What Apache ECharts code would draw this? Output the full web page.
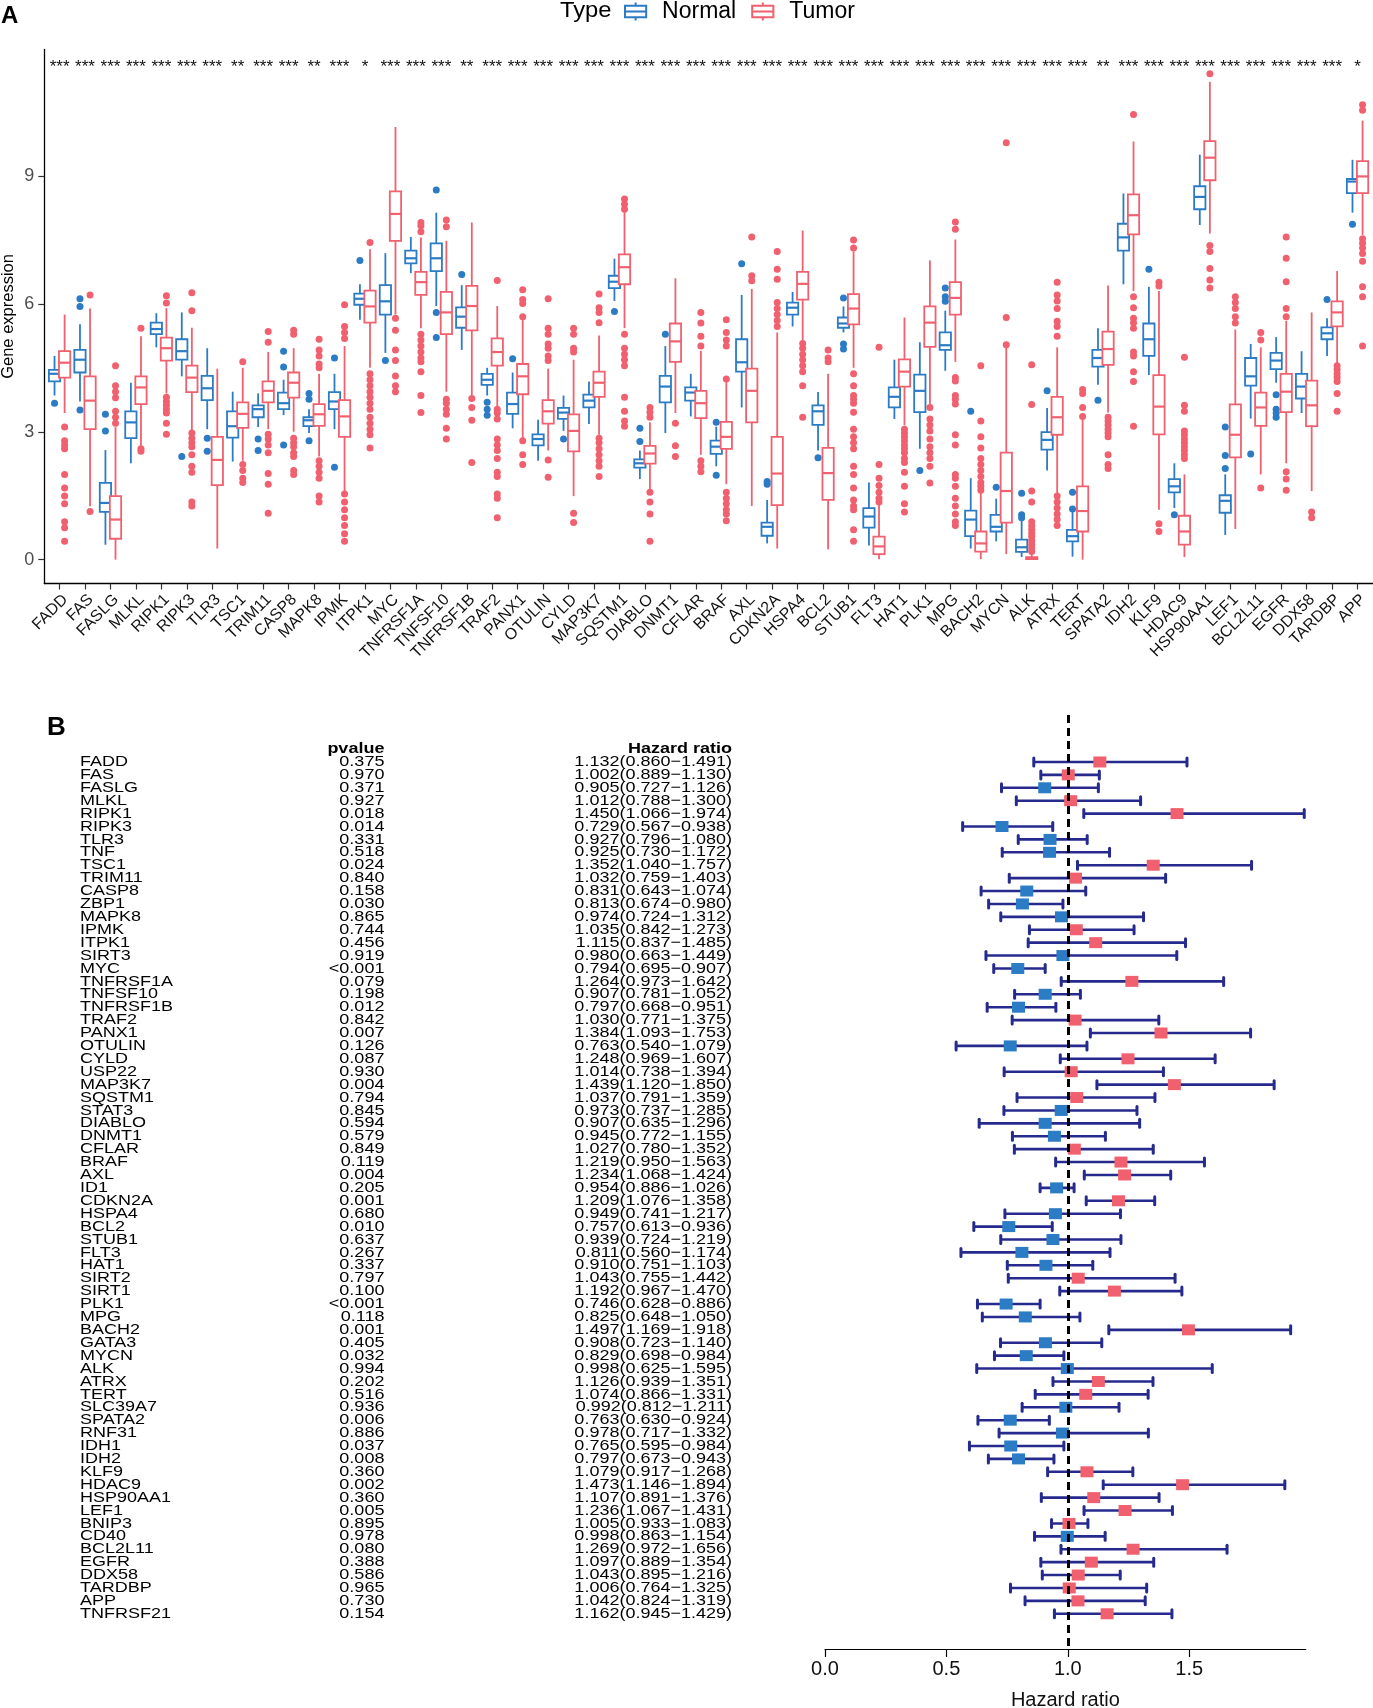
<!DOCTYPE html>
<html><head><meta charset="utf-8">
<script src="https://cdn.jsdelivr.net/npm/echarts@6/dist/echarts.min.js"></script>
<style>html,body{margin:0;padding:0;background:#fff}#c{width:1373px;height:1708px}</style>
</head><body><div id="c"></div>
<script>
// ---------------- Panel A data ----------------
const genesA = ['FADD','FAS','FASLG','MLKL','RIPK1','RIPK3','TLR3','TSC1','TRIM11','CASP8','MAPK8','IPMK','ITPK1','MYC','TNFRSF1A','TNFSF10','TNFRSF1B','TRAF2','PANX1','OTULIN','CYLD','MAP3K7','SQSTM1','DIABLO','DNMT1','CFLAR','BRAF','AXL','CDKN2A','HSPA4','BCL2','STUB1','FLT3','HAT1','PLK1','MPG','BACH2','MYCN','ALK','ATRX','TERT','SPATA2','IDH2','KLF9','HDAC9','HSP90AA1','LEF1','BCL2L11','EGFR','DDX58','TARDBP','APP'];
const sigA = ['***','***','***','***','***','***','***','**','***','***','**','***','*','***','***','***','**','***','***','***','***','***','***','***','***','***','***','***','***','***','***','***','***','***','***','***','***','***','***','***','***','**','***','***','***','***','***','***','***','***','***','*'];
// [min whisker, Q1, median, Q3, max whisker]
const normalBox = [
[3.85,4.18,4.36,4.45,4.78],[3.71,4.39,4.69,4.92,5.52],[0.35,1.12,1.33,1.80,2.57],[2.26,2.85,3.22,3.48,4.15],
[4.98,5.29,5.41,5.56,5.78],[4.30,4.69,4.89,5.17,5.80],[3.06,3.74,4.02,4.31,4.96],[2.30,2.86,3.13,3.48,3.94],
[3.11,3.34,3.53,3.62,3.90],[3.39,3.53,3.67,3.92,4.22],[2.97,3.13,3.27,3.34,3.53],[3.06,3.53,3.71,3.93,4.36],
[5.63,5.98,6.12,6.24,6.46],[4.85,5.75,6.06,6.44,7.19],[6.72,6.95,7.07,7.25,7.57],[5.95,6.77,7.07,7.42,8.14],
[4.92,5.44,5.70,5.92,6.44],[3.85,4.10,4.22,4.36,4.50],[3.08,3.42,3.65,3.92,4.39],[2.32,2.68,2.83,2.94,3.28],
[3.02,3.30,3.45,3.56,3.85],[3.18,3.57,3.73,3.87,4.18],[6.07,6.37,6.52,6.66,7.06],[1.89,2.16,2.26,2.35,2.56],
[2.97,3.69,4.06,4.31,5.01],[3.36,3.73,3.92,4.04,4.36],[2.19,2.48,2.65,2.79,3.12],[3.57,4.41,4.63,5.17,6.21],
[0.38,0.56,0.77,0.87,1.40],[5.47,5.75,5.91,6.03,6.28],[2.56,3.16,3.48,3.62,3.93],[5.33,5.44,5.54,5.68,5.94],
[0.33,0.75,1.01,1.21,1.81],[3.30,3.57,3.82,4.04,4.69],[2.60,3.46,3.96,4.34,5.10],[4.43,4.92,5.03,5.33,5.84],
[0.26,0.55,0.94,1.15,1.91],[0.43,0.66,0.77,1.05,1.43],[0.06,0.18,0.29,0.47,0.94],[2.09,2.58,2.81,2.99,3.56],
[0.07,0.43,0.55,0.70,1.26],[4.10,4.53,4.73,4.92,5.43],[6.46,7.25,7.56,7.88,8.59],[4.33,4.78,5.17,5.54,6.40],
[1.21,1.58,1.72,1.89,2.26],[7.85,8.22,8.51,8.76,9.50],[0.58,1.10,1.38,1.51,2.00],[3.31,4.08,4.30,4.73,5.06],
[4.15,4.47,4.67,4.85,5.22],[3.44,3.78,4.06,4.36,4.89],[4.78,5.17,5.31,5.45,5.66],[8.14,8.60,8.87,8.93,9.38]
];
const tumorBox = [
[3.44,4.27,4.62,4.89,5.75],[1.25,3.06,3.73,4.30,5.89],[0.00,0.49,0.94,1.49,3.11],[2.67,3.65,4.04,4.30,5.24],
[3.90,4.67,4.96,5.21,5.90],[3.02,3.93,4.27,4.55,5.44],[0.26,1.75,2.34,2.88,4.48],[2.32,3.09,3.42,3.69,4.50],
[3.06,3.69,3.96,4.18,4.87],[3.00,3.80,4.15,4.39,4.96],[2.42,3.14,3.41,3.65,4.36],[1.58,2.88,3.36,3.74,5.01],
[4.50,5.56,5.94,6.31,7.28],[5.75,7.48,8.11,8.64,10.15],[5.43,6.21,6.51,6.75,7.56],[3.94,5.29,5.80,6.28,7.48],
[3.85,5.38,5.95,6.42,7.91],[3.57,4.55,4.87,5.19,5.95],[2.83,3.88,4.30,4.59,5.63],[2.56,3.19,3.48,3.74,4.48],
[1.49,2.54,3.02,3.41,4.69],[2.93,3.82,4.15,4.41,5.26],[5.43,6.46,6.86,7.16,8.16],[1.63,2.25,2.49,2.67,3.22],
[3.44,4.64,5.12,5.54,6.60],[2.46,3.32,3.67,3.96,4.90],[1.77,2.60,2.88,3.23,4.18],[1.26,3.22,3.96,4.48,6.35],
[0.26,1.28,2.02,2.88,5.33],[5.15,6.10,6.47,6.75,7.72],[0.24,1.40,2.03,2.62,4.36],[4.50,5.52,5.89,6.23,7.23],
[0.01,0.13,0.31,0.54,1.31],[3.15,4.06,4.41,4.70,5.68],[3.62,4.99,5.56,5.94,7.02],[4.64,5.75,6.14,6.51,7.51],
[0.01,0.19,0.38,0.66,1.56],[0.13,0.87,1.61,2.51,4.98],[0.00,0.01,0.03,0.06,0.12],[1.54,2.93,3.34,3.82,4.98],
[0.00,0.66,1.14,1.72,3.28],[3.45,4.57,4.94,5.35,6.43],[6.30,7.63,8.08,8.57,9.81],[1.17,2.94,3.59,4.33,6.30],
[0.06,0.35,0.66,1.03,2.00],[7.65,8.90,9.43,9.82,11.21],[0.72,2.40,2.93,3.64,5.40],[2.00,3.14,3.57,3.92,4.98],
[2.26,3.46,3.94,4.36,5.60],[1.61,3.13,3.62,4.20,5.80],[4.61,5.47,5.80,6.06,6.77],[7.62,8.60,8.99,9.35,10.30]
];
const normalOut = [
[3.67],[6.12,5.94,3.51],[3.41,3.02],[],[],[2.42],[2.85,2.54],[],[2.83,2.56],[4.89,4.52,2.69],[3.90,3.76,2.79],[4.73,2.17],
[7.02],[4.67],[],[8.67,5.80,5.21],[6.69],[3.69,3.53,3.39],[4.71],[],[2.83],[],[5.82],[3.08,2.77],
[5.29],[],[3.22,1.98],[6.94],[1.83,1.77],[],[2.39],[6.14,5.06,4.94],[],[],[2.09],[6.37,6.17,6.06],
[3.48],[1.70],[1.56,1.05,0.98],[3.96],[1.58,1.19],[3.74],[],[6.81],[1.05],[],[3.11,2.44,2.14],[2.48],
[3.87,3.53,3.44,3.34],[],[6.10],[7.87]
];
const tumorOut = [
[3.11,2.79,2.69,2.60,2.00,1.68,1.49,1.31,0.89,0.75,0.43],
[6.21,1.13],
[4.55,4.08,3.94,3.80,3.48,3.34,3.20],
[5.43,2.60,2.54],
[6.19,6.02,3.81,3.71,3.62,3.53,3.44,3.20,2.94],
[6.26,5.84,2.97,2.85,2.74,2.65,2.46,2.19,2.05,1.35,1.26],
[],
[4.64,2.23,2.09,1.91,1.81],
[5.35,5.10,2.94,2.83,2.69,2.51,2.02,1.77,1.09],
[5.38,5.29,2.85,2.74,2.65,2.51,2.42,2.09,2.00],
[5.17,4.92,4.78,4.59,4.50,2.32,2.19,2.05,1.91,1.49,1.35],
[5.98,5.47,5.33,5.19,1.54,1.35,1.17,0.98,0.80,0.61,0.43],
[7.44,4.36,4.22,4.08,3.94,3.81,3.67,3.53,3.34,3.20,3.06,2.93,2.62],
[5.66,5.38,4.92,4.67,4.31,4.08,3.94],
[7.91,7.83,7.69,5.29,5.15,5.01,4.87,4.73,4.64,4.41,3.85,3.45],
[7.97,7.81,3.76,3.67,3.53,3.41,3.08,2.83],
[3.78,3.57,3.27,2.28],
[6.55,3.53,3.44,3.30,2.83,2.69,2.56,2.37,2.05,1.95,1.54,1.44,0.98],
[6.33,6.10,6.01,5.70,2.79,2.46,2.23],
[6.12,5.43,5.29,5.06,4.96,4.78,4.67,2.34,1.93],
[5.43,5.29,4.96,4.87,1.09,0.87],
[6.23,5.91,5.80,5.56,2.85,2.74,2.60,2.46,2.32,2.19,1.95],
[8.46,8.34,8.22,5.29,4.96,4.82,4.69,4.55,3.81,3.48,3.25,3.13],
[3.57,3.46,3.34,1.58,1.35,1.07,0.43],
[3.20,2.67,2.42],
[5.80,5.55,5.24,5.01,2.32,2.19,2.06],
[5.63,5.33,5.15,5.01,4.24,1.58,1.44,1.31,1.17,1.07,0.91],
[7.57,6.66,6.54],
[7.23,6.81,6.58,6.03,5.89,5.75,5.61,5.47],
[5.07,4.96,4.82,4.69,4.55,4.41,4.08,3.34],
[4.92,4.73,4.64],
[7.50,7.31,4.36,4.08,3.85,3.76,3.67,3.46,3.06,2.88,2.74,2.60,2.19,2.00,1.68,1.40,1.26,1.17,0.70,0.43],
[4.98,2.23,1.91,1.74,1.58,1.44,1.35],
[3.06,2.97,2.88,2.79,2.69,2.60,2.51,2.37,2.28,2.05,1.72,1.31,1.12],
[3.57,3.30,3.16,3.02,2.83,2.65,2.51,2.37,2.19,1.80],
[7.92,7.75,4.27,4.19,3.85,3.76,3.65,2.93,2.69,2.00,1.91,1.72,1.44,1.26,1.07,0.89,0.80],
[4.55,3.25,2.88,2.62,2.37,2.23,2.09,1.95,1.81,1.72,1.63],
[9.78,5.68,5.04],
[4.57,3.64,1.61,1.35,0.89,0.80,0.71,0.62,0.54,0.45,0.36,0.27,0.19],
[6.51,6.21,6.07,5.89,5.59,5.47,5.24,1.49,1.35,1.21,1.07,0.94,0.80],
[3.99,3.90,3.57,3.36],
[3.34,3.25,3.16,3.06,2.97,2.88,2.46,2.23,2.14],
[10.44,6.17,5.91,5.66,5.56,5.43,4.87,4.78,4.41,4.18,3.13],
[6.51,6.42,0.84,0.66],
[4.75,3.62,3.48,3.02,2.93,2.83,2.74,2.65,2.56,2.46,2.37],
[11.40,7.37,7.23,6.83,6.56,6.37],
[6.17,6.03,5.89,5.70,5.55],
[5.33,5.15,1.68],
[7.57,7.07,6.52,5.89,5.70,2.06,1.89,1.63],
[1.12,0.98],
[4.55,4.46,4.36,4.27,4.18,3.90,3.48],
[10.67,10.54,7.53,7.42,7.31,7.18,7.00,6.40,6.17,5.01]
];
const yTicksA = [0,3,6,9];

// ---------------- Panel B data ----------------
const genesB = ['FADD','FAS','FASLG','MLKL','RIPK1','RIPK3','TLR3','TNF','TSC1','TRIM11','CASP8','ZBP1','MAPK8','IPMK','ITPK1','SIRT3','MYC','TNFRSF1A','TNFSF10','TNFRSF1B','TRAF2','PANX1','OTULIN','CYLD','USP22','MAP3K7','SQSTM1','STAT3','DIABLO','DNMT1','CFLAR','BRAF','AXL','ID1','CDKN2A','HSPA4','BCL2','STUB1','FLT3','HAT1','SIRT2','SIRT1','PLK1','MPG','BACH2','GATA3','MYCN','ALK','ATRX','TERT','SLC39A7','SPATA2','RNF31','IDH1','IDH2','KLF9','HDAC9','HSP90AA1','LEF1','BNIP3','CD40','BCL2L11','EGFR','DDX58','TARDBP','APP','TNFRSF21'];
const pvalB = ['0.375','0.970','0.371','0.927','0.018','0.014','0.331','0.518','0.024','0.840','0.158','0.030','0.865','0.744','0.456','0.919','<0.001','0.079','0.198','0.012','0.842','0.007','0.126','0.087','0.930','0.004','0.794','0.845','0.594','0.579','0.849','0.119','0.004','0.205','0.001','0.680','0.010','0.637','0.267','0.337','0.797','0.100','<0.001','0.118','0.001','0.405','0.032','0.994','0.202','0.516','0.936','0.006','0.886','0.037','0.008','0.360','0.002','0.360','0.005','0.895','0.978','0.080','0.388','0.586','0.965','0.730','0.154'];
const hrB = [1.132,1.002,0.905,1.012,1.450,0.729,0.927,0.925,1.352,1.032,0.831,0.813,0.974,1.035,1.115,0.980,0.794,1.264,0.907,0.797,1.030,1.384,0.763,1.248,1.014,1.439,1.037,0.973,0.907,0.945,1.027,1.219,1.234,0.954,1.209,0.949,0.757,0.939,0.811,0.910,1.043,1.192,0.746,0.825,1.497,0.908,0.829,0.998,1.126,1.074,0.992,0.763,0.978,0.765,0.797,1.079,1.473,1.107,1.236,1.005,0.998,1.269,1.097,1.043,1.006,1.042,1.162];
const hrLow = [0.860,0.889,0.727,0.788,1.066,0.567,0.796,0.730,1.040,0.759,0.643,0.674,0.724,0.842,0.837,0.663,0.695,0.973,0.781,0.668,0.771,1.093,0.540,0.969,0.738,1.120,0.791,0.737,0.635,0.772,0.780,0.950,1.068,0.886,1.076,0.741,0.613,0.724,0.560,0.751,0.755,0.967,0.628,0.648,1.169,0.723,0.698,0.625,0.939,0.866,0.812,0.630,0.717,0.595,0.673,0.917,1.146,0.891,1.067,0.933,0.863,0.972,0.889,0.895,0.764,0.824,0.945];
const hrHigh = [1.491,1.130,1.126,1.300,1.974,0.938,1.080,1.172,1.757,1.403,1.074,0.980,1.312,1.273,1.485,1.449,0.907,1.642,1.052,0.951,1.375,1.753,1.079,1.607,1.394,1.850,1.359,1.285,1.296,1.155,1.352,1.563,1.424,1.026,1.358,1.217,0.936,1.219,1.174,1.103,1.442,1.470,0.886,1.050,1.918,1.140,0.984,1.595,1.351,1.331,1.211,0.924,1.332,0.984,0.943,1.268,1.894,1.376,1.431,1.083,1.154,1.656,1.354,1.216,1.325,1.319,1.429];
const xTicksB = [0,0.5,1,1.5];

// ---------------- styles ----------------
const FONT = 'Liberation Sans, Arial, Helvetica, sans-serif';
const C_N = '#2B7BC5', C_T = '#F0606E', C_BAR = '#262A8C';
const BOX_HALF = 0.222, OFF = 0.198, STAR_Y = 11.55, HEADER_ROW = -1.05;
const TXT_SCALE = 1.2;

function makeBoxRender(off, color) {
  return function (params, api) {
    const x = api.value(0) + off;
    const lo = api.value(1), q1 = api.value(2), md = api.value(3), q3 = api.value(4), hi = api.value(5);
    const a = api.coord([x - BOX_HALF, q3]), b = api.coord([x + BOX_HALF, q1]);
    const m1 = api.coord([x - BOX_HALF, md]), m2 = api.coord([x + BOX_HALF, md]);
    const t = api.coord([x, hi]), u = api.coord([x, q3]), d = api.coord([x, q1]), l = api.coord([x, lo]);
    const ls = {stroke: color, lineWidth: 1.8};
    return {type: 'group', children: [
      {type: 'line', shape: {x1: t[0], y1: t[1], x2: u[0], y2: u[1]}, style: ls},
      {type: 'line', shape: {x1: d[0], y1: d[1], x2: l[0], y2: l[1]}, style: ls},
      {type: 'rect', shape: {x: a[0], y: a[1], width: b[0] - a[0], height: b[1] - a[1]}, style: {fill: '#fff', stroke: color, lineWidth: 1.8}},
      {type: 'line', shape: {x1: m1[0], y1: m1[1], x2: m2[0], y2: m2[1]}, style: {stroke: color, lineWidth: 2.2}}
    ]};
  };
}
function outData(list, off) {
  const r = [];
  list.forEach((vals, i) => vals.forEach(v => r.push([i + off, v])));
  return r;
}
const ICON = 'path://M11,0L11,3M1,3L21,3L21,14L1,14ZM1,8.5L21,8.5M11,14L11,17';

const chart = echarts.init(document.getElementById('c'), null, {renderer: 'canvas'});
chart.setOption({
  animation: false,
  backgroundColor: '#fff',
  textStyle: {fontFamily: FONT},
  graphic: [
    {type: 'text', x: 1, y: 16, style: {text: 'A', fontFamily: FONT, fontSize: 24, fontWeight: 'bold', fill: '#000', verticalAlign: 'middle', textVerticalAlign: 'middle'}},
    {type: 'text', x: 47, y: 728, style: {text: 'B', fontFamily: FONT, fontSize: 26, fontWeight: 'bold', fill: '#000', verticalAlign: 'middle', textVerticalAlign: 'middle'}},
    {type: 'text', x: 560, y: 11, scaleX: 1.08, style: {text: 'Type', fontFamily: FONT, fontSize: 22, fill: '#000', verticalAlign: 'middle', textVerticalAlign: 'middle'}}
  ],
  legend: {
    left: 624, top: 0, padding: 0, itemWidth: 23, itemHeight: 18, itemGap: 15, selectedMode: false,
    textStyle: {fontSize: 23, color: '#000', fontFamily: FONT, padding: [0, 0, 0, 10]},
    data: [
      {name: 'Normal', icon: ICON, itemStyle: {color: 'rgba(0,0,0,0)', borderColor: C_N, borderWidth: 2}},
      {name: 'Tumor', icon: ICON, itemStyle: {color: 'rgba(0,0,0,0)', borderColor: C_T, borderWidth: 2}}
    ]
  },
  grid: [
    {left: 44.3, right: 0.2, top: 49.4, bottom: 1124.5, containLabel: false, outerBoundsMode: 'none'},
    {left: 825, width: 480.7, top: 715, height: 934, containLabel: false, outerBoundsMode: 'none'}
  ],
  xAxis: [
    {type: 'value', gridIndex: 0, min: -0.6, max: 51.6, splitLine: {show: false},
     axisLine: {show: true, onZero: false, lineStyle: {color: '#000', width: 1.3}},
     axisTick: {show: true, customValues: genesA.map((g, i) => i), length: 6, lineStyle: {color: '#333', width: 1.2}},
     axisLabel: {show: true, customValues: genesA.map((g, i) => i), formatter: v => genesA[Math.round(v)], rotate: 45, fontSize: 16, color: '#111', margin: 8, verticalAlign: 'top', fontFamily: FONT}},
    {type: 'value', gridIndex: 1, min: 0, max: 1.98, splitLine: {show: false},
     axisLine: {show: true, onZero: false, lineStyle: {color: '#000', width: 1.2}},
     axisTick: {show: true, customValues: xTicksB, length: 8, lineStyle: {color: '#000', width: 1.2}},
     axisLabel: {show: true, customValues: xTicksB, formatter: v => v.toFixed(1), fontSize: 20, color: '#111', margin: 10, fontFamily: FONT},
     name: 'Hazard ratio', nameLocation: 'middle', nameGap: 41, nameMoveOverlap: false, nameTextStyle: {fontSize: 20, color: '#111', fontFamily: FONT}}
  ],
  yAxis: [
    {type: 'value', gridIndex: 0, min: -0.56, max: 11.97, splitLine: {show: false},
     axisLine: {show: true, onZero: false, lineStyle: {color: '#000', width: 1.3}},
     axisTick: {show: true, customValues: yTicksA, length: 6, lineStyle: {color: '#333', width: 1.2}},
     axisLabel: {show: true, customValues: yTicksA, fontSize: 18, color: '#4d4d4d', margin: 10, fontFamily: FONT},
     name: 'Gene expression', nameLocation: 'middle', nameGap: 27.5, nameMoveOverlap: false, nameTextStyle: {fontSize: 16.5, color: '#000', fontFamily: FONT}},
    {type: 'value', gridIndex: 1, inverse: true, min: -3.64, max: 68.73, show: false}
  ],
  series: [
    {name: 'Normal', type: 'custom', xAxisIndex: 0, yAxisIndex: 0, renderItem: makeBoxRender(-OFF, C_N),
     itemStyle: {color: C_N}, encode: {x: 0, y: [1, 2, 3, 4, 5]}, clip: false,
     data: normalBox.map((b, i) => [i].concat(b))},
    {name: 'Tumor', type: 'custom', xAxisIndex: 0, yAxisIndex: 0, renderItem: makeBoxRender(OFF, C_T),
     itemStyle: {color: C_T}, encode: {x: 0, y: [1, 2, 3, 4, 5]}, clip: false,
     data: tumorBox.map((b, i) => [i].concat(b))},
    {name: 'Normal', type: 'scatter', xAxisIndex: 0, yAxisIndex: 0, symbolSize: 7, itemStyle: {color: C_N, opacity: 1},
     data: outData(normalOut, -OFF)},
    {name: 'Tumor', type: 'scatter', xAxisIndex: 0, yAxisIndex: 0, symbolSize: 7, itemStyle: {color: C_T, opacity: 1},
     data: outData(tumorOut, OFF)},
    {name: 'sig', type: 'custom', xAxisIndex: 0, yAxisIndex: 0, clip: false,
     data: sigA.map((s, i) => [i, STAR_Y]),
     renderItem: function (params, api) {
       const p = api.coord([api.value(0), api.value(1)]);
       return {type: 'text', x: p[0], y: p[1], style: {text: sigA[params.dataIndex], fontFamily: FONT, fontSize: 17, fill: '#111', align: 'center', verticalAlign: 'middle', textAlign: 'center', textVerticalAlign: 'middle'}};
     }},
    // Panel B: table text
    {name: 'table', type: 'custom', xAxisIndex: 1, yAxisIndex: 1, clip: false,
     data: genesB.map((g, i) => [0, i]),
     renderItem: function (params, api) {
       const i = params.dataIndex;
       const y = api.coord([0, api.value(1)])[1];
       const st = (txt, align, bold) => ({text: txt, fontFamily: FONT, fontSize: 15, fontWeight: bold ? 'bold' : 'normal', fill: '#000', align: align, textAlign: align, verticalAlign: 'middle', textVerticalAlign: 'middle'});
       const hrTxt = hrB[i].toFixed(3) + '(' + hrLow[i].toFixed(3) + '\u2212' + hrHigh[i].toFixed(3) + ')';
       const kids = [
         {type: 'text', x: 80, y: y, scaleX: TXT_SCALE, style: st(genesB[i], 'left')},
         {type: 'text', x: 384.4, y: y, scaleX: TXT_SCALE, style: st(pvalB[i], 'right')},
         {type: 'text', x: 732, y: y, scaleX: TXT_SCALE, style: st(hrTxt, 'right')}
       ];
       if (i === 0) {
         const yh = api.coord([0, HEADER_ROW])[1];
         kids.push({type: 'text', x: 384.4, y: yh, scaleX: TXT_SCALE, style: st('pvalue', 'right', true)});
         kids.push({type: 'text', x: 732, y: yh, scaleX: TXT_SCALE, style: st('Hazard ratio', 'right', true)});
       }
       return {type: 'group', children: kids};
     }},
    // error bars
    {name: 'ci', type: 'custom', xAxisIndex: 1, yAxisIndex: 1, clip: false, z: 2,
     data: genesB.map((g, i) => [hrLow[i], i, hrHigh[i]]),
     encode: {x: [0, 2], y: 1},
     renderItem: function (params, api) {
       const a = api.coord([api.value(0), api.value(1)]);
       const b = api.coord([api.value(2), api.value(1)]);
       const s = {stroke: C_BAR, lineWidth: 2.6};
       const c = {stroke: C_BAR, lineWidth: 3, lineCap: 'round'};
       return {type: 'group', children: [
         {type: 'line', shape: {x1: a[0], y1: a[1], x2: b[0], y2: b[1]}, style: s},
         {type: 'line', shape: {x1: a[0], y1: a[1] - 4, x2: a[0], y2: a[1] + 4}, style: c},
         {type: 'line', shape: {x1: b[0], y1: b[1] - 4, x2: b[0], y2: b[1] + 4}, style: c}
       ]};
     }},
    // reference line at HR = 1
    {name: 'ref', type: 'line', xAxisIndex: 1, yAxisIndex: 1, data: [], z: 3,
     markLine: {silent: true, symbol: 'none', label: {show: false},
       lineStyle: {color: '#000', width: 3, type: [8, 5]}, data: [{xAxis: 1}]}},
    // HR squares
    {name: 'hr', type: 'scatter', xAxisIndex: 1, yAxisIndex: 1, z: 4, symbol: 'rect', symbolSize: [13, 11],
     data: genesB.map((g, i) => ({value: [hrB[i], i], itemStyle: {color: hrB[i] > 1 ? C_T : C_N, opacity: 1}}))}
  ]
});
</script>
</body></html>
